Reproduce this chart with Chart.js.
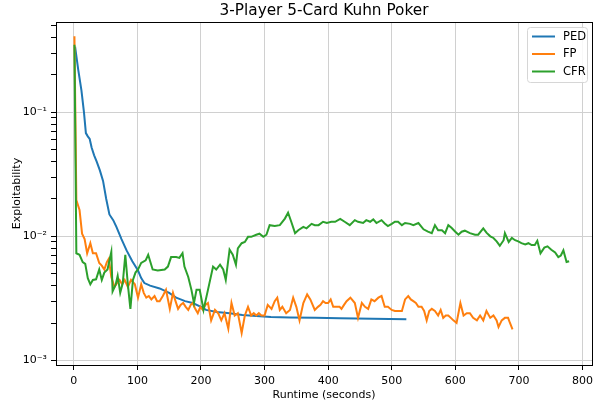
<!DOCTYPE html>
<html>
<head>
<meta charset="utf-8">
<script src="https://cdn.jsdelivr.net/npm/chart.js@4.4.1/dist/chart.umd.min.js"></script>
<style>
  html, body { margin: 0; padding: 0; background: #ffffff; }
  #wrap { width: 600px; height: 408px; }
</style>
</head>
<body>
<div id="wrap"><canvas id="c" width="600" height="408"></canvas></div>
<script>
const chartTitle = '3-Player 5-Card Kuhn Poker';
const xAxisTitle = 'Runtime (seconds)';
const yAxisTitle = 'Exploitability';
const seriesNames = ['PED', 'FP', 'CFR'];
const seriesColors = ['#1f77b4', '#ff7f0e', '#2ca02c'];
const xTicks = [0, 100, 200, 300, 400, 500, 600, 700, 800];
const yMajorTicks = [0.001, 0.01, 0.1];
const yTickLabels = ['10\u207B\u00B3', '10\u207B\u00B2', '10\u207B\u00B9'];

const pedX = [2, 7, 12, 16, 19, 22, 25, 28, 32, 36, 41, 46, 51, 56, 62, 67, 75, 83, 92, 101, 106, 111, 120, 135, 150, 161, 175, 187, 200, 208, 225, 245, 265, 287, 310, 340, 380, 418, 470, 523];
const pedY = [0.338, 0.22, 0.15, 0.10, 0.068, 0.064, 0.061, 0.052, 0.045, 0.040, 0.034, 0.028, 0.020, 0.015, 0.0135, 0.0119, 0.0095, 0.0077, 0.0063, 0.0053, 0.0046, 0.0042, 0.0040, 0.0038, 0.0035, 0.0032, 0.0030, 0.0029, 0.0027, 0.00255, 0.00245, 0.0024, 0.00232, 0.00228, 0.00224, 0.00222, 0.0022, 0.00218, 0.00216, 0.00214];

const fpX = [1, 4, 9, 13, 17, 21, 26, 30, 35, 40, 44, 48, 52, 55, 59, 64, 68, 72, 76, 80, 85, 90, 96, 101, 106, 110, 114, 118, 122, 127, 131, 135, 140, 145, 151, 156, 160, 164, 168, 172, 176, 180, 184, 187, 191, 195, 199, 203, 207, 211, 216, 222, 227, 232, 237, 243, 248, 253, 258, 264, 269, 274, 279, 283, 287, 291, 295, 300, 305, 311, 316, 320, 324, 328, 334, 340, 345, 350, 355, 361, 367, 372, 379, 384, 388, 392, 396, 400, 404, 408, 413, 418, 421, 425, 429, 435, 442, 447, 453, 458, 463, 468, 473, 479, 484, 489, 494, 500, 505, 510, 516, 521, 526, 530, 534, 538, 542, 547, 551, 555, 559, 563, 568, 573, 577, 581, 585, 589, 593, 597, 602, 608, 613, 618, 623, 628, 634, 639, 644, 649, 655, 660, 665, 668, 673, 678, 683, 686, 690];
const fpY = [0.41, 0.0196, 0.0163, 0.0105, 0.0095, 0.0073, 0.0088, 0.0073, 0.0073, 0.0061, 0.0058, 0.0054, 0.0062, 0.0066, 0.0047, 0.0039, 0.0042, 0.00445, 0.0041, 0.00445, 0.0039, 0.00445, 0.0041, 0.0032, 0.0041, 0.0035, 0.0032, 0.0033, 0.0031, 0.0033, 0.0030, 0.0030, 0.0033, 0.0037, 0.0026, 0.0035, 0.0030, 0.0026, 0.0028, 0.0029, 0.0027, 0.00255, 0.0028, 0.0029, 0.0026, 0.0024, 0.0027, 0.00255, 0.0028, 0.0029, 0.0021, 0.00255, 0.0024, 0.0021, 0.0024, 0.0018, 0.0029, 0.0023, 0.0024, 0.00166, 0.0023, 0.0027, 0.0023, 0.0024, 0.0023, 0.0024, 0.0023, 0.0023, 0.0028, 0.0026, 0.0030, 0.0032, 0.00255, 0.0027, 0.0024, 0.00255, 0.0032, 0.0027, 0.0021, 0.0029, 0.0034, 0.0031, 0.00255, 0.0027, 0.0028, 0.0030, 0.0029, 0.0029, 0.0031, 0.0027, 0.0027, 0.0027, 0.0026, 0.0028, 0.0030, 0.0032, 0.0029, 0.0022, 0.0029, 0.0027, 0.0026, 0.0031, 0.0030, 0.0032, 0.0033, 0.0027, 0.0027, 0.00255, 0.0025, 0.0025, 0.0025, 0.0031, 0.0033, 0.0031, 0.0030, 0.0029, 0.0027, 0.0027, 0.0025, 0.0021, 0.0025, 0.0026, 0.0025, 0.0023, 0.00255, 0.0022, 0.0023, 0.0023, 0.0022, 0.0021, 0.0020, 0.0029, 0.0023, 0.0024, 0.0024, 0.0022, 0.0021, 0.0023, 0.0021, 0.0025, 0.0022, 0.0023, 0.0021, 0.00186, 0.0021, 0.0022, 0.0022, 0.0020, 0.00178];

const cfrX = [1, 4, 9, 14, 18, 22, 26, 30, 35, 40, 44, 48, 53, 59, 61, 66, 69, 73, 77, 81, 85, 89, 93, 97, 101, 106, 113, 117, 124, 132, 143, 148, 153, 161, 166, 171, 174, 180, 185, 189, 193, 198, 202, 204, 211, 219, 224, 230, 235, 239, 245, 250, 255, 258, 264, 269, 274, 279, 287, 292, 298, 303, 308, 316, 324, 332, 337, 342, 348, 353, 361, 366, 374, 379, 385, 392, 398, 405, 411, 419, 426, 434, 442, 447, 455, 460, 466, 471, 476, 484, 489, 494, 500, 505, 510, 516, 521, 529, 534, 542, 550, 557, 563, 568, 573, 579, 584, 589, 594, 600, 605, 610, 615, 623, 631, 636, 644, 649, 655, 660, 665, 670, 676, 678, 684, 689, 694, 699, 704, 710, 715, 720, 725, 729, 734, 740, 745, 751, 757, 762, 766, 770, 775, 779];
const cfrY = [0.35, 0.0073, 0.0071, 0.0062, 0.0060, 0.0046, 0.0041, 0.00445, 0.0045, 0.0054, 0.00445, 0.0051, 0.0054, 0.0075, 0.0036, 0.0041, 0.0048, 0.0035, 0.0042, 0.0071, 0.0041, 0.0026, 0.00445, 0.0051, 0.0054, 0.0061, 0.0064, 0.0071, 0.0054, 0.0053, 0.0054, 0.0057, 0.0068, 0.0068, 0.0067, 0.0073, 0.0057, 0.0047, 0.0037, 0.0029, 0.0037, 0.0037, 0.0029, 0.00255, 0.0037, 0.0057, 0.0054, 0.0059, 0.0054, 0.00445, 0.0078, 0.0071, 0.0059, 0.0080, 0.0088, 0.0090, 0.0099, 0.0099, 0.0103, 0.0105, 0.0099, 0.0103, 0.0123, 0.0121, 0.0123, 0.0139, 0.0155, 0.0131, 0.0106, 0.0112, 0.0119, 0.0116, 0.0126, 0.0123, 0.0123, 0.0131, 0.0128, 0.0131, 0.0131, 0.0138, 0.0131, 0.0123, 0.0135, 0.0131, 0.0128, 0.0135, 0.0131, 0.0137, 0.0128, 0.0135, 0.0127, 0.0121, 0.0126, 0.0131, 0.0131, 0.0123, 0.0128, 0.0126, 0.0123, 0.0128, 0.0114, 0.0109, 0.0106, 0.0123, 0.0112, 0.0112, 0.0106, 0.0123, 0.0117, 0.0109, 0.0103, 0.0109, 0.0111, 0.0106, 0.0103, 0.0103, 0.0116, 0.0107, 0.0100, 0.0097, 0.0091, 0.0084, 0.0093, 0.0106, 0.0090, 0.0097, 0.0093, 0.0091, 0.0088, 0.0086, 0.0088, 0.0085, 0.0085, 0.0092, 0.0073, 0.0081, 0.0083, 0.0078, 0.0074, 0.0068, 0.0070, 0.0077, 0.0062, 0.0063];

const seriesX = [pedX, fpX, cfrX];
const seriesY = [pedY, fpY, cfrY];

const AREA = { left: 56, right: 592, top: 22, bottom: 365 };
const PAD_LEFT = 11;
const FONT = "'DejaVu Sans', sans-serif";

const framePlugin = {
  id: 'frame',
  afterDraw(chart) {
    const ctx = chart.ctx, a = chart.chartArea;
    ctx.save();
    ctx.strokeStyle = '#000';
    ctx.lineWidth = 1;
    ctx.strokeRect(Math.round(a.left) + 0.5, Math.round(a.top) + 0.5, Math.round(a.right - a.left), Math.round(a.bottom - a.top));
    // title
    ctx.fillStyle = '#000';
    ctx.font = '15.3px ' + FONT;
    ctx.textAlign = 'center';
    ctx.textBaseline = 'middle';
    ctx.fillText(chartTitle, (a.left + a.right) / 2, 11);
    // legend
    const bx = 527, by = 27, bw = 60, bh = 55;
    ctx.fillStyle = 'rgba(255,255,255,0.85)';
    ctx.strokeStyle = '#d6d6d6';
    ctx.lineWidth = 1;
    ctx.beginPath();
    if (ctx.roundRect) ctx.roundRect(bx + 0.5, by + 0.5, bw, bh, 3); else ctx.rect(bx + 0.5, by + 0.5, bw, bh);
    ctx.fill();
    ctx.stroke();
    ctx.font = '11.5px ' + FONT;
    ctx.textAlign = 'left';
    ctx.textBaseline = 'middle';
    seriesNames.forEach((name, i) => {
      const y = by + 9.5 + i * 17.5;
      ctx.strokeStyle = seriesColors[i];
      ctx.lineWidth = 2;
      ctx.beginPath();
      ctx.moveTo(bx + 5, y);
      ctx.lineTo(bx + 28, y);
      ctx.stroke();
      ctx.fillStyle = '#000';
      ctx.fillText(name, bx + 36, y + 0.5);
    });
    ctx.restore();
  }
};

const datasets = seriesNames.map((name, i) => ({
  label: name,
  data: seriesX[i].map((x, j) => ({ x: x, y: seriesY[i][j] })),
  borderColor: seriesColors[i],
  backgroundColor: seriesColors[i],
  borderWidth: 2,
  pointRadius: 0,
  tension: 0,
  fill: false,
  order: 3 - i
}));

const isMajor = v => yMajorTicks.some(t => Math.abs(Math.log10(v) - Math.log10(t)) < 1e-6);

new Chart(document.getElementById('c'), {
  type: 'line',
  data: { datasets },
  options: {
    responsive: false,
    animation: false,
    devicePixelRatio: 1,
    layout: { padding: { left: PAD_LEFT, right: 600 - AREA.right, top: AREA.top, bottom: 0 } },
    plugins: { legend: { display: false }, title: { display: false }, tooltip: { enabled: false } },
    scales: {
      x: {
        type: 'linear',
        min: -28,
        max: 815,
        afterBuildTicks: s => { s.ticks = xTicks.map(v => ({ value: v })); },
        afterFit: s => { s.height = 408 - AREA.bottom; },
        ticks: { color: '#000', font: { family: FONT, size: 11 }, padding: 5, maxRotation: 0, autoSkip: false },
        grid: { color: '#d0d0d0', lineWidth: 1, tickColor: '#000', tickLength: 5 },
        border: { color: '#000', width: 1 },
        title: { display: true, text: xAxisTitle, color: '#000', font: { family: FONT, size: 11 }, padding: { top: 0, bottom: 6 } }
      },
      y: {
        type: 'logarithmic',
        min: 0.000917,
        max: 0.5347,
        afterBuildTicks: s => {
          const t = [];
          for (let k = -4; k <= 0; k++) {
            for (let m = 1; m <= 9; m++) {
              const v = m * Math.pow(10, k);
              if (v >= s.min && v <= s.max) t.push({ value: v, major: m === 1 });
            }
          }
          s.ticks = t;
        },
        afterFit: s => { s.width = AREA.left - PAD_LEFT; },
        ticks: {
          color: '#000', font: { family: FONT, size: 11 }, padding: 4, autoSkip: false,
          callback: v => { const i = yMajorTicks.findIndex(t => Math.abs(Math.log10(v) - Math.log10(t)) < 1e-6); return i >= 0 ? yTickLabels[i] : ''; }
        },
        grid: {
          color: c => (c.tick && isMajor(c.tick.value)) ? '#d0d0d0' : 'rgba(0,0,0,0)',
          tickColor: '#000',
          tickLength: 5,
          lineWidth: 1
        },
        border: { color: '#000', width: 1 },
        title: { display: true, text: yAxisTitle, color: '#000', font: { family: FONT, size: 11 }, padding: { top: 0, bottom: 0 } }
      }
    }
  },
  plugins: [framePlugin]
});
</script>
</body>
</html>
